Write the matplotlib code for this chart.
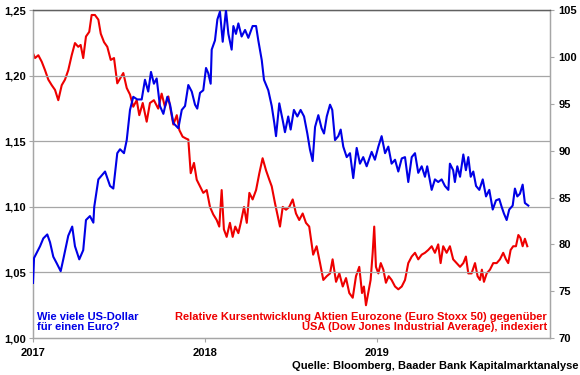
import matplotlib
matplotlib.use("Agg")
import matplotlib.pyplot as plt

plt.rcParams['font.family'] = ['Liberation Sans', 'DejaVu Sans']
plt.rcParams['font.weight'] = 'bold'

# EUR/USD (left axis) - decimal years
usd_t = [2017.000, 2017.006, 2017.041, 2017.060, 2017.083, 2017.099, 2017.118, 2017.138, 2017.161, 2017.176,
         2017.205, 2017.228, 2017.244, 2017.269, 2017.292, 2017.308, 2017.331, 2017.351, 2017.356, 2017.380,
         2017.419, 2017.448, 2017.467, 2017.490, 2017.506, 2017.529, 2017.545, 2017.564, 2017.583, 2017.606,
         2017.632, 2017.651, 2017.670, 2017.686, 2017.703, 2017.719, 2017.738, 2017.758, 2017.781, 2017.797,
         2017.816, 2017.845, 2017.865, 2017.884, 2017.903, 2017.923, 2017.942, 2017.955, 2017.971, 2017.990,
         2018.006, 2018.019, 2018.033, 2018.039, 2018.058, 2018.072, 2018.087, 2018.103, 2018.122, 2018.136,
         2018.155, 2018.165, 2018.180, 2018.194, 2018.213, 2018.233, 2018.252, 2018.277, 2018.297, 2018.310,
         2018.330, 2018.343, 2018.368, 2018.388, 2018.403, 2018.413, 2018.432, 2018.452, 2018.465, 2018.484,
         2018.498, 2018.517, 2018.537, 2018.556, 2018.576, 2018.595, 2018.610, 2018.626, 2018.640, 2018.659,
         2018.678, 2018.692, 2018.708, 2018.727, 2018.740, 2018.756, 2018.775, 2018.789, 2018.804, 2018.824,
         2018.843, 2018.862, 2018.882, 2018.901, 2018.920, 2018.940, 2018.969, 2018.988, 2019.008, 2019.027,
         2019.047, 2019.066, 2019.085, 2019.105, 2019.124, 2019.144, 2019.163, 2019.182, 2019.202, 2019.221,
         2019.240, 2019.260, 2019.279, 2019.292, 2019.318, 2019.337, 2019.356, 2019.376, 2019.395, 2019.415,
         2019.424, 2019.443, 2019.453, 2019.467, 2019.483, 2019.502, 2019.517, 2019.531, 2019.545, 2019.560,
         2019.576, 2019.595, 2019.615, 2019.634, 2019.653, 2019.673, 2019.692, 2019.711, 2019.725, 2019.738,
         2019.754, 2019.769, 2019.789, 2019.802, 2019.816, 2019.831, 2019.847, 2019.860, 2019.880]
usd_v = [1.042, 1.061, 1.070, 1.076, 1.079, 1.073, 1.062, 1.057, 1.051, 1.060,
         1.078, 1.085, 1.070, 1.060, 1.067, 1.090, 1.093, 1.088, 1.100, 1.121,
         1.127, 1.116, 1.114, 1.141, 1.144, 1.141, 1.151, 1.174, 1.184, 1.182,
         1.182, 1.197, 1.188, 1.203, 1.194, 1.198, 1.177, 1.171, 1.184, 1.178,
         1.164, 1.160, 1.174, 1.177, 1.193, 1.188, 1.178, 1.175, 1.187, 1.189,
         1.206, 1.202, 1.194, 1.220, 1.227, 1.243, 1.249, 1.226, 1.250, 1.232,
         1.220, 1.238, 1.232, 1.240, 1.230, 1.235, 1.229, 1.238, 1.238, 1.227,
         1.212, 1.197, 1.189, 1.177, 1.164, 1.154, 1.179, 1.166, 1.157, 1.169,
         1.159, 1.174, 1.169, 1.174, 1.169, 1.156, 1.144, 1.135, 1.161, 1.170,
         1.160, 1.156, 1.169, 1.178, 1.174, 1.151, 1.154, 1.159, 1.146, 1.138,
         1.141, 1.122, 1.145, 1.133, 1.138, 1.131, 1.142, 1.136, 1.146, 1.154,
         1.141, 1.146, 1.133, 1.136, 1.127, 1.137, 1.138, 1.119, 1.138, 1.141,
         1.126, 1.131, 1.123, 1.131, 1.113, 1.121, 1.119, 1.121, 1.116, 1.113,
         1.133, 1.128, 1.119, 1.131, 1.123, 1.140, 1.128, 1.138, 1.123, 1.127,
         1.116, 1.113, 1.121, 1.108, 1.113, 1.098, 1.105, 1.106, 1.100, 1.095,
         1.090, 1.098, 1.101, 1.114, 1.108, 1.110, 1.117, 1.103, 1.101]

# Relative index Euro Stoxx 50 vs Dow Jones (right axis)
rel_t = [2017.000, 2017.012, 2017.031, 2017.051, 2017.070, 2017.089, 2017.109, 2017.128, 2017.147, 2017.167,
         2017.186, 2017.205, 2017.225, 2017.244, 2017.263, 2017.277, 2017.292, 2017.308, 2017.327, 2017.341,
         2017.360, 2017.380, 2017.394, 2017.413, 2017.432, 2017.452, 2017.471, 2017.490, 2017.506, 2017.525,
         2017.545, 2017.564, 2017.583, 2017.603, 2017.618, 2017.638, 2017.661, 2017.680, 2017.703, 2017.728,
         2017.748, 2017.767, 2017.787, 2017.797, 2017.816, 2017.836, 2017.851, 2017.870, 2017.890, 2017.903,
         2017.917, 2017.936, 2017.952, 2017.971, 2017.990, 2018.010, 2018.029, 2018.048, 2018.068, 2018.083,
         2018.097, 2018.110, 2018.126, 2018.145, 2018.161, 2018.176, 2018.194, 2018.208, 2018.227, 2018.243,
         2018.258, 2018.277, 2018.297, 2018.316, 2018.335, 2018.355, 2018.374, 2018.388, 2018.407, 2018.420,
         2018.436, 2018.452, 2018.471, 2018.490, 2018.510, 2018.529, 2018.548, 2018.568, 2018.587, 2018.606,
         2018.620, 2018.629, 2018.649, 2018.669, 2018.688, 2018.708, 2018.727, 2018.742, 2018.762, 2018.781,
         2018.801, 2018.820, 2018.839, 2018.859, 2018.878, 2018.897, 2018.913, 2018.924, 2018.936, 2018.949,
         2018.963, 2018.975, 2018.984, 2018.994, 2019.008, 2019.022, 2019.037, 2019.052, 2019.068, 2019.085,
         2019.105, 2019.124, 2019.144, 2019.163, 2019.182, 2019.202, 2019.221, 2019.240, 2019.260, 2019.279,
         2019.298, 2019.318, 2019.337, 2019.356, 2019.370, 2019.385, 2019.405, 2019.424, 2019.443, 2019.463,
         2019.483, 2019.502, 2019.517, 2019.531, 2019.550, 2019.570, 2019.585, 2019.599, 2019.610, 2019.622,
         2019.638, 2019.657, 2019.676, 2019.696, 2019.715, 2019.734, 2019.750, 2019.763, 2019.777, 2019.792,
         2019.808, 2019.822, 2019.834, 2019.847, 2019.860, 2019.874]
rel_v = [100.4, 99.9, 100.2, 99.5, 98.6, 97.6, 97.0, 96.5, 95.4, 97.0,
         97.6, 98.6, 100.2, 101.5, 101.1, 101.3, 99.9, 102.2, 102.7, 104.5,
         104.5, 104.0, 102.5, 101.6, 101.1, 99.7, 99.9, 97.2, 97.7, 98.3,
         96.7, 96.0, 94.7, 95.4, 93.8, 95.1, 93.1, 95.1, 95.4, 94.5,
         96.1, 94.7, 95.8, 94.7, 92.8, 93.8, 92.2, 91.5, 91.3, 91.2,
         87.6, 88.7, 86.9, 86.2, 85.5, 85.8, 84.0, 83.2, 82.6, 81.9,
         85.8, 81.6, 80.8, 82.3, 80.8, 81.9, 81.2, 82.3, 84.0, 82.3,
         85.5, 84.8, 85.8, 87.6, 89.2, 87.9, 86.9, 86.2, 84.4, 83.3,
         81.9, 84.0, 83.7, 84.0, 84.8, 83.3, 82.6, 83.3, 82.3, 81.9,
         80.1, 78.9, 79.8, 78.0, 76.2, 76.6, 76.9, 78.4, 76.0, 76.9,
         75.5, 76.4, 74.8, 74.3, 76.6, 77.6, 74.8, 75.5, 73.5, 74.8,
         76.2, 79.1, 81.9, 77.6, 76.9, 78.0, 77.3, 75.9, 76.6, 76.2,
         75.5, 75.2, 75.5, 76.2, 78.0, 78.7, 79.1, 78.4, 78.9, 79.1,
         79.4, 79.8, 79.1, 80.0, 78.0, 79.8, 79.1, 79.8, 78.4, 78.0,
         77.6, 78.0, 78.7, 76.9, 76.9, 78.0, 76.6, 76.2, 77.3, 76.0,
         76.9, 77.3, 78.0, 78.0, 78.4, 79.1, 78.4, 78.0, 79.4, 79.8,
         79.8, 81.0, 80.7, 79.8, 80.6, 79.8]

left_ticks = [1.00, 1.05, 1.10, 1.15, 1.20, 1.25]
left_labels = ['1,00', '1,05', '1,10', '1,15', '1,20', '1,25']
right_ticks = [70, 75, 80, 85, 90, 95, 100, 105]
year_ticks = [2017, 2018, 2019]
year_labels = ['2017', '2018', '2019']

BLUE = '#0000e6'
RED = '#ee0000'
GRID = '#a6a6a6'
fs = 8

fig = plt.figure(figsize=(5.8, 3.75), dpi=100)
ax = fig.add_axes([33/580, 1 - 338/375, (550 - 33)/580, (338 - 10.3)/375])
ax2 = ax.twinx()

ax.set_xlim(2017, 2020.006)
ax.set_ylim(1.00, 1.25)
ax2.set_ylim(70, 105)

for v in left_ticks[1:]:
    ax.axhline(v, color=GRID, lw=0.9, zorder=0)

ax2.plot(rel_t, rel_v, color=RED, lw=1.5, solid_joinstyle='round')
ax.plot(usd_t, usd_v, color=BLUE, lw=1.5, solid_joinstyle='round', zorder=3)
ax.set_zorder(ax2.get_zorder() + 1)
ax.patch.set_visible(False)

ax.set_yticks(left_ticks)
ax.set_yticklabels(left_labels, fontsize=fs, fontweight='bold')
ax2.set_yticks(right_ticks)
ax2.set_yticklabels([str(v) for v in right_ticks], fontsize=fs, fontweight='bold')
ax.set_xticks(year_ticks)
ax.set_xticklabels(year_labels, fontsize=fs, fontweight='bold')

for a in (ax, ax2):
    for s in a.spines.values():
        s.set_color(GRID)
        s.set_linewidth(0.9)
    a.spines['top'].set_color('#606060')
    a.tick_params(colors=GRID, labelcolor='black', length=3, width=0.8)
ax.tick_params(axis='y', pad=2)
ax.tick_params(axis='x', pad=4)
ax2.tick_params(axis='y', pad=3)

fig.text(37/580, 1 - 322/375, 'Wie viele US-Dollar\nfür einen Euro?', color=BLUE,
         fontsize=fs, fontweight='bold', ha='left', va='center', linespacing=1.1)
fig.text(547/580, 1 - 322/375,
         'Relative Kursentwicklung Aktien Eurozone (Euro Stoxx 50) gegenüber\n'
         'USA (Dow Jones Industrial Average), indexiert',
         color=RED, fontsize=fs, fontweight='bold', ha='right', va='center',
         multialignment='right', linespacing=1.1)
fig.text(578/580, 1 - 366/375, 'Quelle: Bloomberg, Baader Bank Kapitalmarktanalyse',
         color='black', fontsize=fs, fontweight='bold', ha='right', va='center')

fig.savefig('out.png', dpi=100)
